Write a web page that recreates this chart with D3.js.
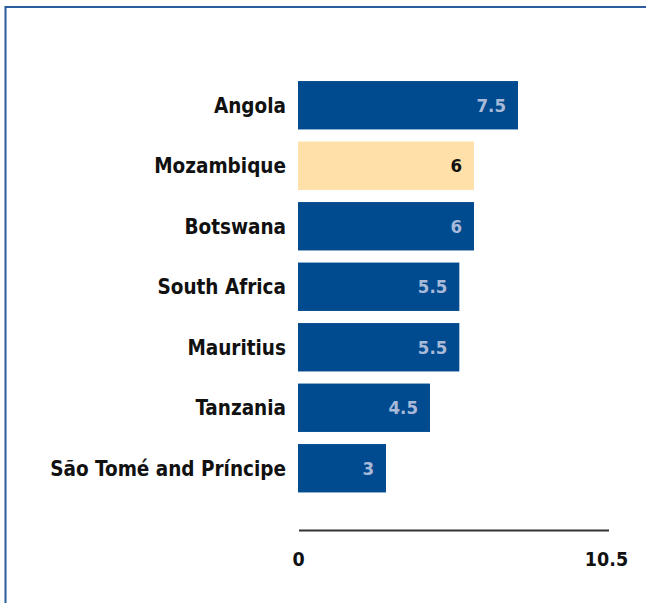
<!DOCTYPE html>
<html>
<head>
<meta charset="utf-8">
<script src="https://cdn.jsdelivr.net/npm/d3@7"></script>
<style>
  body { margin: 0; background: #fff; }
  svg { display: block; }
</style>
</head>
<body>
<svg id="chart"></svg>
<script>
const countries = ['Angola', 'Mozambique', 'Botswana', 'South Africa', 'Mauritius', 'Tanzania', 'São Tomé and Príncipe'];
const values = [7.5, 6, 6, 5.5, 5.5, 4.5, 3];
const highlight = ['Mozambique'];
const xTicks = [0, 10.5];

const width = 646, height = 603;
const font = '"DejaVu Sans Condensed", "DejaVu Sans", sans-serif';

const svg = d3.select('#chart')
  .attr('width', width)
  .attr('height', height);

// frame, only top and left edges show in the picture
svg.append('rect')
  .attr('x', 5.5)
  .attr('y', 7)
  .attr('width', 800)
  .attr('height', 800)
  .attr('fill', 'none')
  .attr('stroke', '#2a5c9e')
  .attr('stroke-width', 2);

const x = d3.scaleLinear()
  .domain([0, 10.5])
  .range([298, 606]);

const y = d3.scaleBand()
  .domain(countries)
  .range([75, 498.5])
  .paddingInner(0.2)
  .paddingOuter(0.1);

const data = countries.map((c, i) => ({ name: c, value: values[i] }));

const bar = svg.selectAll('g.bar')
  .data(data)
  .enter()
  .append('g')
  .attr('class', 'bar');

bar.append('rect')
  .attr('x', x(0))
  .attr('y', (d) => y(d.name))
  .attr('width', (d) => x(d.value) - x(0))
  .attr('height', y.bandwidth())
  .attr('fill', (d) => highlight.includes(d.name) ? '#fee0a8' : '#004a8f');

bar.append('text')
  .attr('x', (d) => x(d.value) - 12)
  .attr('y', (d) => y(d.name) + y.bandwidth() / 2)
  .attr('dy', '.36em')
  .attr('text-anchor', 'end')
  .style('font-family', font)
  .style('font-weight', 'bold')
  .style('font-size', '18.5px')
  .attr('fill', (d) => highlight.includes(d.name) ? '#111' : '#a9b9d8')
  .text((d) => d.value);

bar.append('text')
  .attr('x', x(0) - 12)
  .attr('y', (d) => y(d.name) + y.bandwidth() / 2)
  .attr('dy', '.36em')
  .attr('text-anchor', 'end')
  .style('font-family', font)
  .style('font-weight', 'bold')
  .style('font-size', '20.5px')
  .attr('fill', '#111')
  .text((d) => d.name);

// axis
const axis = d3.axisBottom(x)
  .tickValues(xTicks)
  .tickSize(0)
  .tickPadding(22)
  .tickFormat((d) => d);

const gx = svg.append('g')
  .attr('transform', 'translate(0,530.5)')
  .call(axis);

gx.select('.domain')
  .attr('d', 'M' + (x(0) + 1) + ',0H' + (x(10.5) + 3))
  .attr('stroke', '#333')
  .attr('stroke-width', 2);

gx.selectAll('text')
  .style('font-family', font)
  .style('font-weight', 'bold')
  .style('font-size', '19.5px')
  .attr('fill', '#111');
</script>
</body>
</html>
